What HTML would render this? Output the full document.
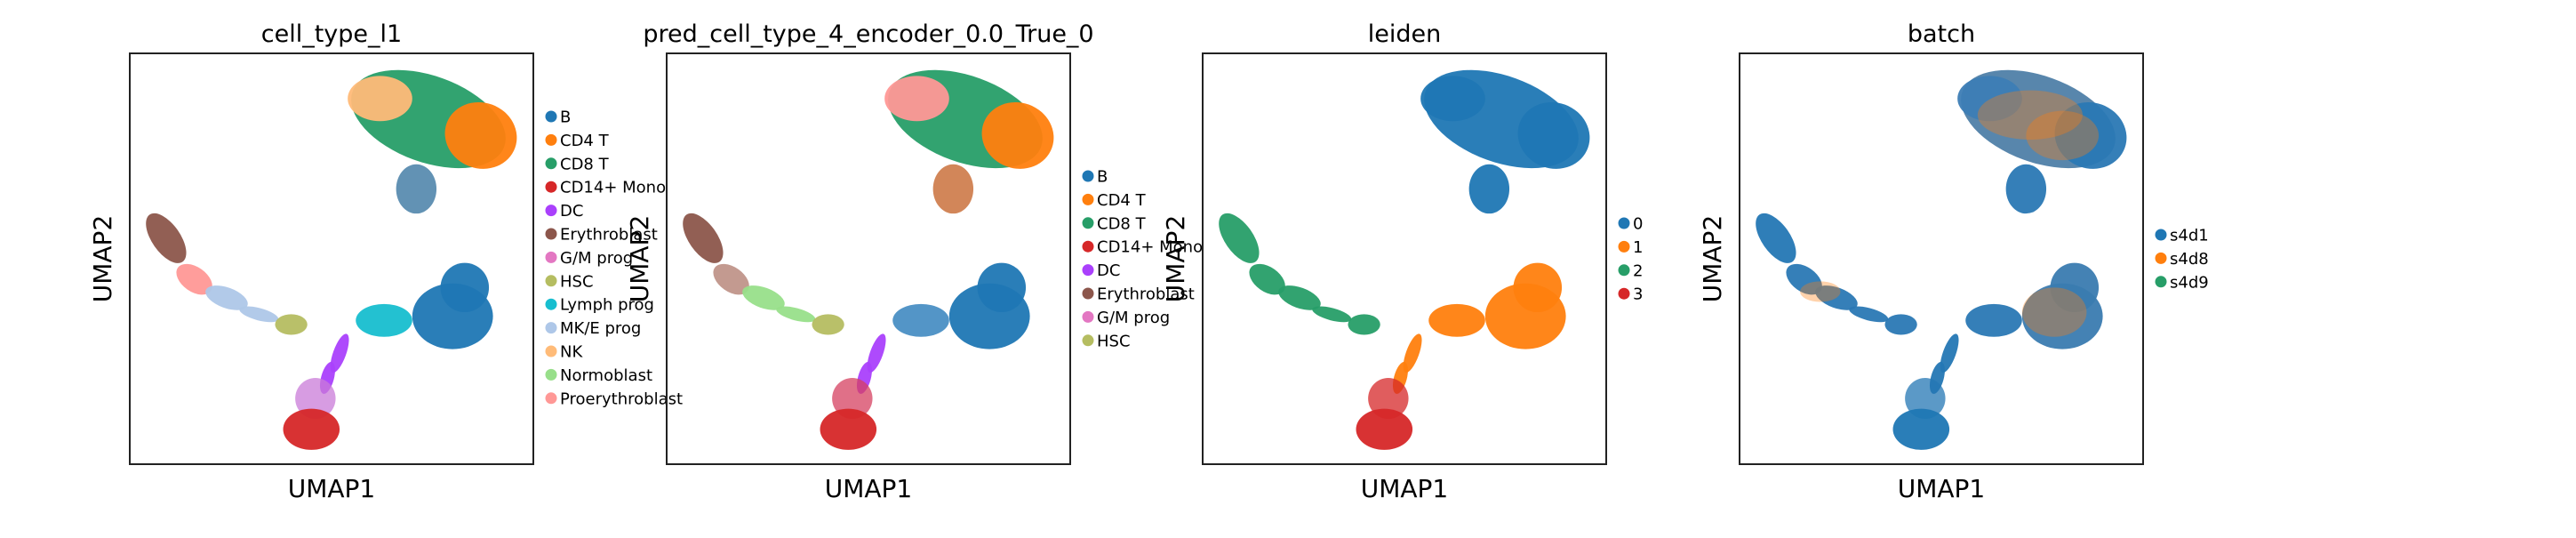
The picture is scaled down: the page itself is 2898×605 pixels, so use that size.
<!DOCTYPE html>
<html><head><meta charset="utf-8"><style>
html,body{margin:0;padding:0;background:#fff;}
svg text{font-family:"DejaVu Sans","Liberation Sans",sans-serif;fill:#000;}
</style></head><body>
<svg id="fig" width="2898" height="600" viewBox="0 0 2898 600" xmlns="http://www.w3.org/2000/svg"></svg>
<script>
// ---- data (UMAP coords 0..100, y up) ----
const regionNames = ["top_main","top_left","top_right","top_tail","arm_top","arm_pink","arm_blue","arm_blue2","junction","lymph","b_main","b_top","dc_arm","dc_arm2","bottom_upper","bottom"];
const regionX  = [74, 62, 87, 71, 9, 16, 24, 32, 40, 63, 80, 83, 52, 49, 46, 45];
const regionY  = [84, 89, 80, 67, 55, 45, 40.5, 36.5, 34, 35, 36, 43, 27, 21, 16, 8.5];
const regionRX = [20, 8, 9, 5, 3.5, 5, 5.5, 5, 4, 7, 10, 6, 1.6, 1.6, 5, 7];
const regionRY = [10.5, 5.5, 8, 6, 7, 3, 2.5, 1.5, 2.5, 4, 8, 6, 5, 4, 5, 5];
const regionRot= [20, 0, 20, 0, -35, 35, 20, 15, 0, 0, 0, 0, 20, 15, 0, 0];
const panelTitles = ["cell_type_l1","pred_cell_type_4_encoder_0.0_True_0","leiden","batch"];
const panelLefts = [146, 750, 1353, 1957];
const regionColors = [
 ["#279e68","#ffbb78","#ff7f0e","#5a8cb0","#8c564b","#ff9896","#aec7e8","#aec7e8","#b5bd61","#17becf","#1f77b4","#1f77b4","#aa40fc","#aa40fc","#c97bd8","#d62728"],
 ["#279e68","#ff9896","#ff7f0e","#d08050","#8c564b","#c0958a","#98df8a","#98df8a","#b5bd61","#4a8fc4","#1f77b4","#1f77b4","#aa40fc","#aa40fc","#d64060","#d62728"],
 ["#1f77b4","#1f77b4","#1f77b4","#1f77b4","#279e68","#279e68","#279e68","#279e68","#279e68","#ff7f0e","#ff7f0e","#ff7f0e","#ff7f0e","#ff7f0e","#d62728","#d62728"],
 ["#4f7fa8","#3d7db5","#2a78b4","#2a78b4","#2477b4","#2a78b4","#2a78b4","#2a78b4","#2a78b4","#2a78b4","#3a7bb0","#3a7bb0","#2477b4","#2477b4","#2477b4","#1f77b4"]
];
const legendLabels = [
 ["B","CD4 T","CD8 T","CD14+ Mono","DC","Erythroblast","G/M prog","HSC","Lymph prog","MK/E prog","NK","Normoblast","Proerythroblast"],
 ["B","CD4 T","CD8 T","CD14+ Mono","DC","Erythroblast","G/M prog","HSC"],
 ["0","1","2","3"],
 ["s4d1","s4d8","s4d9"]
];
const legendColors = [
 ["#1f77b4","#ff7f0e","#279e68","#d62728","#aa40fc","#8c564b","#e377c2","#b5bd61","#17becf","#aec7e8","#ffbb78","#98df8a","#ff9896"],
 ["#1f77b4","#ff7f0e","#279e68","#d62728","#aa40fc","#8c564b","#e377c2","#b5bd61"],
 ["#1f77b4","#ff7f0e","#279e68","#d62728"],
 ["#1f77b4","#ff7f0e","#279e68"]
];
const legendTop = [131, 198, 251, 264];

const NS="http://www.w3.org/2000/svg";
const svg=document.getElementById('fig');
const BOX_T=60, BOX_H=462, BOX_W=454;
function mk(tag,attrs,parent){const e=document.createElementNS(NS,tag);for(const k in attrs)e.setAttribute(k,attrs[k]);(parent||svg).appendChild(e);return e;}

for(let p=0;p<4;p++){
  const L=panelLefts[p];
  const sx=v=>L+v/100*BOX_W;
  const sy=v=>BOX_T+(100-v)/100*BOX_H;
  const g=mk('g',{});
  
  
  const sc=mk('g',{},g);
  
  
  for(let i=0;i<regionNames.length;i++){
    const cx=sx(regionX[i]), cy=sy(regionY[i]);
    const e=mk('ellipse',{cx:cx,cy:cy,rx:regionRX[i]/100*BOX_W,ry:regionRY[i]/100*BOX_H,fill:regionColors[p][i],transform:`rotate(${regionRot[i]} ${cx} ${cy})`,opacity:(i==14?0.75:0.95)},sc);
    
    
  }
  const box=mk('rect',{x:L,y:BOX_T,width:BOX_W,height:BOX_H,fill:'none',stroke:'#222',"stroke-width":2},g);
  
  
  const t=mk('text',{x:L+BOX_W/2,y:47,"font-size":27,"text-anchor":"middle"},g);
  t.textContent=panelTitles[p];
  
  
  const xl=mk('text',{x:L+BOX_W/2,y:559,"font-size":28,"text-anchor":"middle"},g);
  xl.textContent='UMAP1';
  
  
  const yl=mk('text',{x:0,y:0,"font-size":28,"text-anchor":"middle",transform:`translate(${L-21},${BOX_T+BOX_H/2}) rotate(-90)`},g);
  yl.textContent='UMAP2';
  
  
  const lg=mk('g',{},g);
  
  
  for(let j=0;j<legendLabels[p].length;j++){
    const y=legendTop[p]+j*26.4;
    const c=mk('circle',{cx:L+BOX_W+20,cy:y,r:6.5,fill:legendColors[p][j]},lg);
    
    
    const tx=mk('text',{x:L+BOX_W+30,y:y+6.5,"font-size":18},lg);
    tx.textContent=legendLabels[p][j];
    
    
  }
}
// batch overlay of orange (s4d8) mixing
const overlayX=[72,80,78,20];
const overlayY=[85,80,37,42];
const overlayRX=[13,9,8,5];
const overlayRY=[6,6,6,2.5];
{
  const L=panelLefts[3];
  const sx=v=>L+v/100*BOX_W, sy=v=>BOX_T+(100-v)/100*BOX_H;
  for(let i=0;i<overlayX.length;i++){
    const e=mk('ellipse',{cx:sx(overlayX[i]),cy:sy(overlayY[i]),rx:overlayRX[i]/100*BOX_W,ry:overlayRY[i]/100*BOX_H,fill:'#ff7f0e',opacity:0.35});
    
    
  }
}
</script>
</body></html>
